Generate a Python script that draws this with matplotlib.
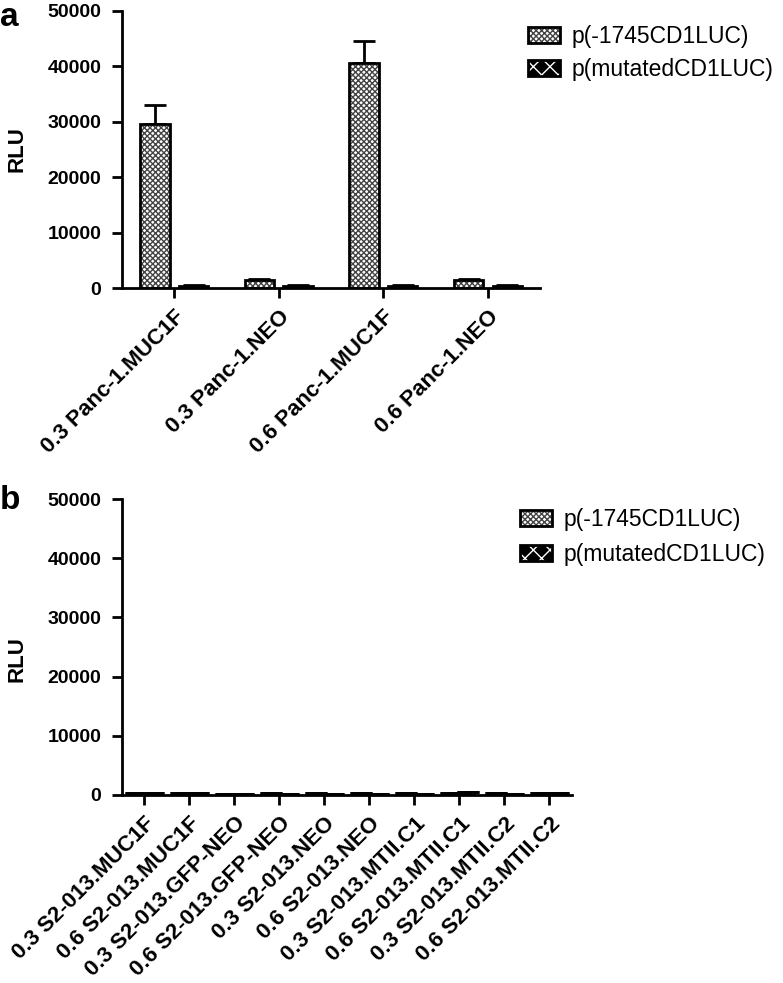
import matplotlib
matplotlib.use("Agg")
import matplotlib.pyplot as plt
import numpy as np

plt.rcParams['font.family'] = ['Liberation Sans', 'DejaVu Sans']
plt.rcParams['hatch.linewidth'] = 1.0

series = ['p(-1745CD1LUC)', 'p(mutatedCD1LUC)']

# panel a
groups_a = ['0.3 Panc-1.MUC1F', '0.3 Panc-1.NEO', '0.6 Panc-1.MUC1F', '0.6 Panc-1.NEO']
wt_a = [29600, 1500, 40500, 1500]
wt_a_err = [3500, 150, 4000, 150]
mut_a = [450, 450, 450, 450]
mut_a_err = [60, 60, 60, 60]

# panel b
groups_b = ['0.3 S2-013.MUC1F', '0.6 S2-013.MUC1F', '0.3 S2-013.GFP-NEO',
            '0.6 S2-013.GFP-NEO', '0.3 S2-013.NEO', '0.6 S2-013.NEO',
            '0.3 S2-013.MTII.C1', '0.6 S2-013.MTII.C1', '0.3 S2-013.MTII.C2',
            '0.6 S2-013.MTII.C2']
wt_b = [350, 300, 200, 250, 300, 250, 250, 300, 300, 250]
wt_b_err = [40, 40, 30, 30, 40, 30, 30, 40, 40, 30]
mut_b = [300, 350, 150, 200, 200, 200, 200, 500, 150, 250]
mut_b_err = [40, 40, 30, 30, 30, 30, 30, 60, 30, 30]

yticks = [0, 10000, 20000, 30000, 40000, 50000]


def draw_panel(ax, groups, wt, wt_err, mut, mut_err, leg_xy, leg_space, ylab_xy):
    x = np.arange(len(groups))
    off = 0.185
    w = 0.28
    # series 1: fine grey checker
    b1 = ax.bar(x - off, wt, w, color='white', edgecolor='#444444', hatch='xxxxxx',
                linewidth=0, zorder=2)
    o1 = ax.bar(x - off, wt, w, fill=False, edgecolor='black', linewidth=2, zorder=3)
    ax.errorbar(x - off, wt, yerr=[np.zeros(len(wt)), wt_err], fmt='none',
                ecolor='black', elinewidth=2, capsize=8, capthick=2, zorder=1)
    # series 2: black with white pattern
    b2 = ax.bar(x + off, mut, w, color='black', edgecolor='white', hatch='xx',
                linewidth=0, zorder=2)
    o2 = ax.bar(x + off, mut, w, fill=False, edgecolor='black', linewidth=2, zorder=3)
    ax.errorbar(x + off, mut, yerr=[np.zeros(len(mut)), mut_err], fmt='none',
                ecolor='black', elinewidth=2, capsize=8, capthick=2, zorder=1)

    ax.set_xlim(-0.5, len(groups) - 0.5)
    ax.set_ylim(0, 50000)
    ax.set_yticks(yticks)
    ax.set_yticklabels([str(v) for v in yticks], fontsize=14, fontweight='bold')
    ax.set_xticks(x)
    ax.set_xticklabels(groups, rotation=45, ha='right', rotation_mode='anchor',
                       fontsize=16, fontweight='bold')
    ax.spines['top'].set_visible(False)
    ax.spines['right'].set_visible(False)
    ax.spines['left'].set_linewidth(2)
    ax.spines['bottom'].set_linewidth(2)
    ax.tick_params(axis='both', direction='out', length=7, width=2)
    ax.tick_params(axis='y', pad=8)
    ax.tick_params(axis='x', pad=6)
    ax.set_ylabel('RLU', fontsize=16, fontweight='bold')
    ax.yaxis.set_label_coords(*ylab_xy)

    ax.legend([(b1[0], o1[0]), (b2[0], o2[0])], series, loc='upper left',
              bbox_to_anchor=leg_xy, bbox_transform=ax.figure.transFigure,
              frameon=False, fontsize=16.5, handlelength=1.4, handleheight=0.7,
              handletextpad=0.5, labelspacing=leg_space, borderaxespad=0,
              borderpad=0)


fig = plt.figure(figsize=(7.83, 9.83), dpi=100)
ax_a = fig.add_axes([0.1558, 0.707, 0.534, 0.282])
ax_b = fig.add_axes([0.1558, 0.1913, 0.5747, 0.301])

draw_panel(ax_a, groups_a, wt_a, wt_a_err, mut_a, mut_a_err,
           (0.674, 0.9745), 0.42, (-0.225, 0.5))
draw_panel(ax_b, groups_b, wt_b, wt_b_err, mut_b, mut_b_err,
           (0.664, 0.483), 0.5, (-0.21, 0.46))

fig.text(0.0, 0.998, 'a', fontsize=24, fontweight='bold', va='top', ha='left')
fig.text(0.0, 0.507, 'b', fontsize=24, fontweight='bold', va='top', ha='left')

fig.savefig('out.png', dpi=100)
